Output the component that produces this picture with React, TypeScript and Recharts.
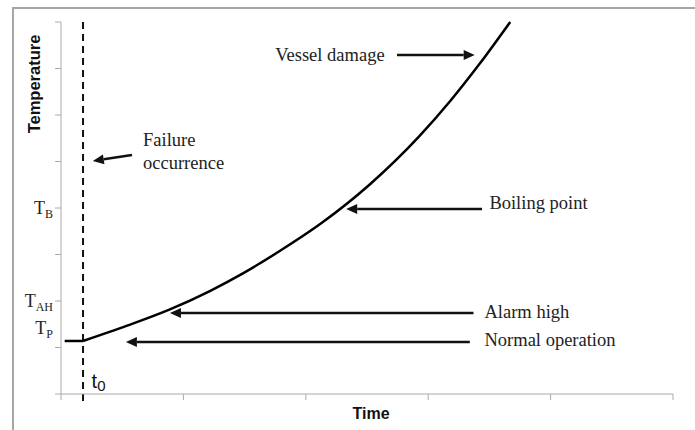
import React from 'react'
import { Label, Line, LineChart, ReferenceDot, ReferenceLine, XAxis, YAxis } from 'recharts'

// time / temperature in axis units (x: 0-5, y: 0-8)
const normalTimes = [0.03, 0.18]
const normalTemps = [1.14, 1.14]
const riseTimes = [0.18, 0.54, 0.89, 1.22, 1.49, 1.79, 2.12, 2.52, 2.93, 3.18, 3.42, 3.67]
const riseTemps = [1.14, 1.47, 1.82, 2.22, 2.6, 3.08, 3.66, 4.5, 5.55, 6.3, 7.1, 8.0]

const xTicks = [0, 1, 2, 3, 4, 5]
const yTicks = [0, 1, 2, 3, 4, 5, 6, 7, 8]
const yTickLabels = [
  { value: 1, sub: 'P' },
  { value: 2, sub: 'AH' },
  { value: 4, sub: 'B' },
]

const failureTime = 0.18

const arrows = [
  { from: { x: 0.58, y: 5.14 }, to: { x: 0.26, y: 5.01 } },
  { from: { x: 2.745, y: 7.29 }, to: { x: 3.38, y: 7.29 } },
  { from: { x: 3.44, y: 3.98 }, to: { x: 2.33, y: 3.98 } },
  { from: { x: 3.37, y: 1.74 }, to: { x: 0.89, y: 1.74 } },
  { from: { x: 3.34, y: 1.12 }, to: { x: 0.53, y: 1.12 } },
]

const notes = [
  { text: 'Failure', x: 0.67, y: 5.46 },
  { text: 'occurrence', x: 0.67, y: 4.97 },
  { text: 'Vessel damage', x: 1.75, y: 7.29 },
  { text: 'Boiling point', x: 3.5, y: 4.11 },
  { text: 'Alarm high', x: 3.46, y: 1.76 },
  { text: 'Normal operation', x: 3.46, y: 1.16 },
]

const normalData = normalTimes.map((t, i) => ({ t, temp: normalTemps[i] }))
const riseData = riseTimes.map((t, i) => ({ t, temp: riseTemps[i] }))

const serif = '"Liberation Serif", "Times New Roman", serif'
const sans = '"Liberation Sans", Arial, sans-serif'
const axisGray = '#aaaaaa'

function Arrow(props: any) {
  const { x1, y1, x2, y2 } = props
  const dx = x2 - x1
  const dy = y2 - y1
  const len = Math.sqrt(dx * dx + dy * dy) || 1
  const ux = dx / len
  const uy = dy / len
  const head = 11
  const half = 5
  const bx = x2 - ux * head
  const by = y2 - uy * head
  const pts = `${x2},${y2} ${bx - uy * half},${by + ux * half} ${bx + uy * half},${by - ux * half}`
  return (
    <g>
      <line x1={x1} y1={y1} x2={bx} y2={by} stroke="#111" strokeWidth={2.5} />
      <polygon points={pts} fill="#111" />
    </g>
  )
}

function YTick(props: any) {
  const { x, y, payload } = props
  const item = yTickLabels.find((l) => l.value === payload.value)
  if (!item) return <g />
  const shift = item.value === 1 ? -20 : 0
  return (
    <text x={x} y={y + shift} dy={6} textAnchor="end" style={{ fontFamily: serif }} fontSize={18} fill="#222">
      <tspan>T</tspan>
      <tspan fontSize={12} dy={4}>
        {item.sub}
      </tspan>
    </text>
  )
}

export default function App() {
  return (
    <div style={{ position: 'absolute', left: 0, top: 0, width: 695, height: 430, background: '#fff' }}>
      <div
        style={{
          position: 'absolute',
          left: 12,
          top: 7,
          width: 683,
          height: 423,
          borderLeft: '2px solid #a6a6a6',
          borderTop: '2px solid #a6a6a6',
        }}
      />
      <div style={{ position: 'absolute', left: 0, top: 0 }}>
        <LineChart width={695} height={430} margin={{ top: 22, right: 22, bottom: 6, left: 0 }}>
          <XAxis
            type="number"
            dataKey="t"
            domain={[0, 5]}
            ticks={xTicks}
            height={30}
            stroke={axisGray}
            tick={() => <g />}
          >
            <Label
              content={() => (
                <text x={371} y={419} textAnchor="middle" style={{ fontFamily: sans }} fontWeight="bold" fontSize={16} fill="#111">
                  Time
                </text>
              )}
            />
          </XAxis>
          <YAxis type="number" domain={[0, 8]} ticks={yTicks} width={61} stroke={axisGray} tick={YTick} interval={0}>
            <Label
              content={() => (
                <text
                  transform="translate(40, 84) rotate(-90)"
                  textAnchor="middle"
                  style={{ fontFamily: sans }}
                  fontWeight="bold"
                  fontSize={16.5}
                  fill="#111"
                >
                  Temperature
                </text>
              )}
            />
          </YAxis>
          <ReferenceLine
            segment={[
              { x: failureTime, y: 8 },
              { x: failureTime, y: -0.2 },
            ]}
            ifOverflow="visible"
            stroke="#111"
            strokeWidth={2}
            strokeDasharray="7 5"
          />
          {arrows.map((a, i) => (
            <ReferenceLine key={i} segment={[a.from, a.to]} ifOverflow="visible" shape={Arrow} />
          ))}
          {notes.map((n, i) => (
            <ReferenceDot
              key={i}
              x={n.x}
              y={n.y}
              r={0}
              ifOverflow="visible"
              shape={(p: any) => (
                <text x={p.cx} y={p.cy} dy={6} style={{ fontFamily: serif }} fontSize={18.5} fill="#222">
                  {n.text}
                </text>
              )}
            />
          ))}
          <ReferenceDot
            x={0.25}
            y={0.28}
            r={0}
            ifOverflow="visible"
            shape={(p: any) => (
              <text x={p.cx} y={p.cy} dy={7} style={{ fontFamily: sans }} fontSize={20} fill="#111">
                <tspan>t</tspan>
                <tspan fontSize={15} dy={3}>
                  0
                </tspan>
              </text>
            )}
          />
          <Line
            data={normalData}
            type="linear"
            dataKey="temp"
            stroke="#000"
            strokeWidth={2.5}
            dot={false}
            activeDot={false}
            isAnimationActive={false}
          />
          <Line
            data={riseData}
            type="monotone"
            dataKey="temp"
            stroke="#000"
            strokeWidth={2.5}
            dot={false}
            activeDot={false}
            isAnimationActive={false}
          />
        </LineChart>
      </div>
    </div>
  )
}
